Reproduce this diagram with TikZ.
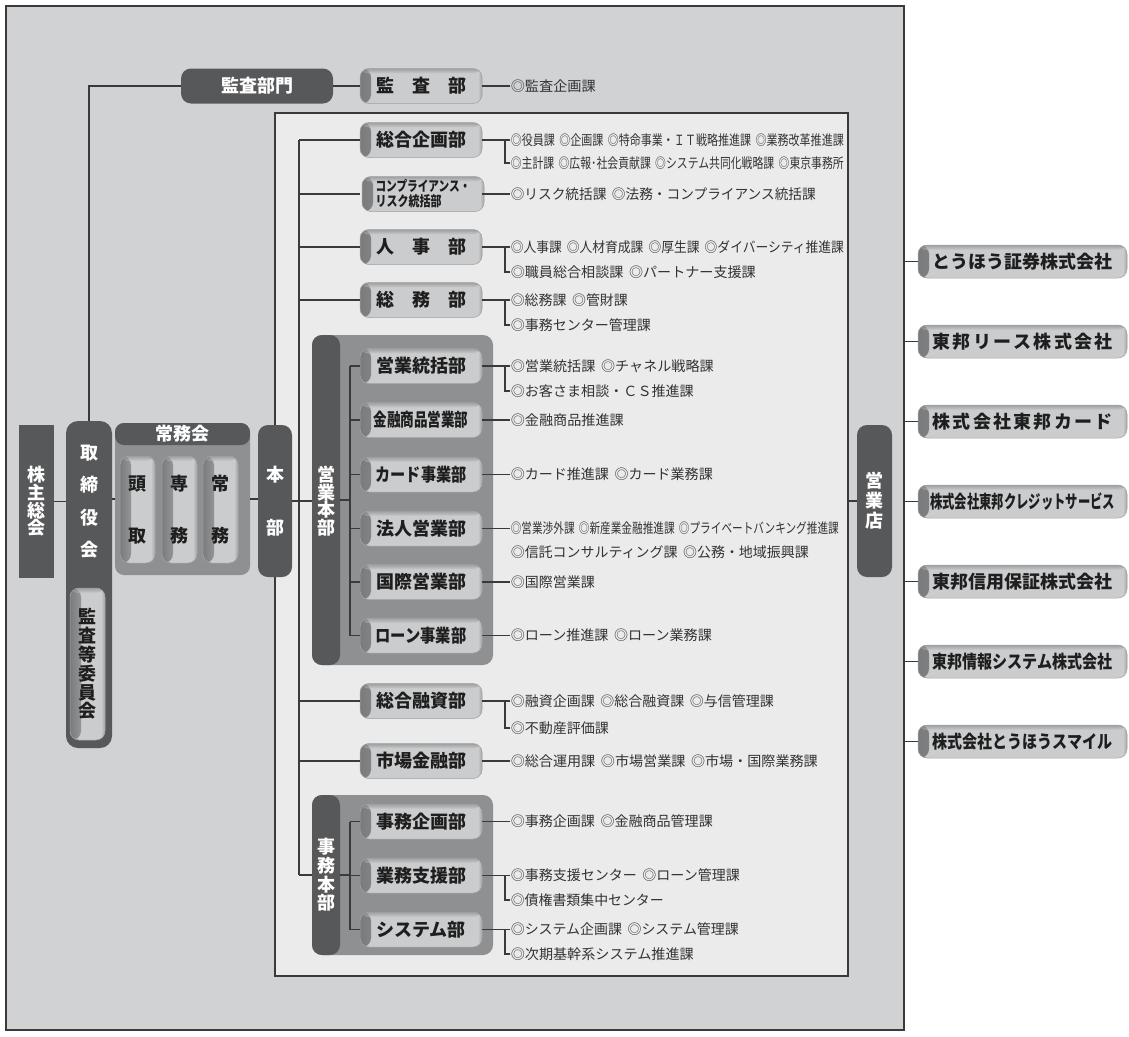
\documentclass[tikz,border=0pt]{standalone}
\usepackage{fontspec}
\setmainfont{Noto Sans CJK JP}
\usetikzlibrary{calc}
\definecolor{outerfill}{HTML}{D1D2D4}
\definecolor{innerfill}{HTML}{EBEBEC}
\definecolor{darkc}{HTML}{57585A}
\definecolor{midc}{HTML}{8F9092}
\definecolor{lboxfill}{HTML}{CBCCCE}
\definecolor{lshade}{HTML}{7A7B7D}
\definecolor{rshade}{HTML}{A3A4A6}
\definecolor{lboxedge}{HTML}{A0A1A3}
\definecolor{linec}{HTML}{3A3A3A}
\definecolor{txtc}{HTML}{1E1E1E}
\definecolor{smallc}{HTML}{333333}
\newcommand\fitw[2]{\resizebox{#1pt}{\height}{#2}}
\newcommand\fsz[2]{\fontsize{#1}{#2}\selectfont}
\newcommand\gp{\hspace{0.4em}}
\tikzset{
  conn/.style={draw=linec, line width=1.2pt},
  dbox/.style={fill=darkc, text=white, inner sep=0pt, rounded corners=10pt, align=center, font={\fsz{18}{18}\bfseries}},
  wtxt/.style={text=white, inner sep=0pt, align=center, font={\fsz{18}{18}\bfseries}},
  lbox/.style={draw=lboxedge, line width=0.5pt, fill=lboxfill, rounded corners=9pt, minimum width=122pt, minimum height=35pt, inner sep=0pt, align=center, text=txtc, font={\fsz{18}{18}\bfseries},
    path picture={
      \shade[left color=lshade, right color=lboxfill] (path picture bounding box.south west) rectangle ([xshift=11pt]path picture bounding box.north west);
      \shade[left color=lboxfill, right color=rshade] ([xshift=-4pt]path picture bounding box.south east) rectangle (path picture bounding box.north east);
      \shade[top color=lshade, bottom color=lboxfill, opacity=0.55] (path picture bounding box.north west) rectangle ([yshift=-5pt]path picture bounding box.north east);
    }},
  cbox/.style={lbox, minimum width=209pt, minimum height=33pt},
  grp/.style={fill=midc, rounded corners=10pt, inner sep=0pt},
  small/.style={anchor=west, inner sep=0.6pt, text=smallc, font={\fsz{14}{14}}},
}
\begin{document}
\begin{tikzpicture}[x=1pt,y=-1pt]
\useasboundingbox (0,0) rectangle (1129,1036);
% panels
\node[draw=linec, line width=1.4pt, fill=outerfill, minimum width=898pt, minimum height=1024pt, inner sep=0pt] (outer) at (455,518) {};
\node[draw=linec, line width=1.2pt, fill=innerfill, minimum width=573pt, minimum height=863pt, inner sep=0pt] (inner) at (561.5,544.5) {};

% left column
\node[dbox, rounded corners=0pt, minimum width=35pt, minimum height=153pt, font={\fsz{18}{17.7}\bfseries}] (kabu) at (36.5,501.5) {株\\主\\総\\会};
\node[dbox, rounded corners=12pt, minimum width=46pt, minimum height=327pt] (tori) at (89,584.5) {};
\node[wtxt, font={\fsz{18}{32.3}\bfseries}] (torit) at (89,501.5) {取\\締\\役\\会};
\node[lbox, minimum width=35pt, minimum height=152pt, font={\fsz{18}{18.8}\bfseries}] (kansaiin) at (87.5,664) {監\\査\\等\\委\\員\\会};

% jomukai
\node[grp, rounded corners=9pt, minimum width=135pt, minimum height=152pt,
  path picture={\fill[darkc] (path picture bounding box.north west) rectangle ([yshift=-22pt]path picture bounding box.north east);}] (jomu) at (182.5,499) {};
\node[wtxt] (jomut) at (182.5,434) {常務会};
\node[lbox, minimum width=35pt, minimum height=107pt, font={\fsz{18}{52}\bfseries}] (toudori) at (137.5,509.5) {頭\\取};
\node[lbox, minimum width=35pt, minimum height=107pt, font={\fsz{18}{52}\bfseries}] (senmu) at (179.5,509.5) {専\\務};
\node[lbox, minimum width=35pt, minimum height=107pt, font={\fsz{18}{52}\bfseries}] (joumu) at (220.5,509.5) {常\\務};

% honbu
\node[dbox, minimum width=34pt, minimum height=152pt, font={\fsz{18}{53}\bfseries}] (honbu) at (275,501) {本\\部};

% kansa
\node[dbox, minimum width=152pt, minimum height=35pt] (kbm) at (257,86) {監査部門};
\node[lbox] (kansa) at (421,86) {監　査　部};
\node[small] (kansa1) at (510,86) {\fitw{85}{◎監査企画課}};

% departments
\node[lbox] (sogo) at (421,140) {総合企画部};
\node[lbox, font={\fsz{14}{15}\bfseries}, align=left] (comp) at (423,194) {\fitw{95}{コンプライアンス・}\\\fitw{66}{リスク統括部}};
\node[lbox] (jinji) at (421,247) {人　事　部};
\node[lbox] (somu) at (421,300) {総　務　部};

% eigyo honbu group
\node[grp, minimum width=181pt, minimum height=330pt,
  path picture={\fill[darkc] (path picture bounding box.south west) rectangle ([xshift=28pt]path picture bounding box.north west);}] (eh) at (402.5,500) {};
\node[wtxt, font={\fsz{18}{17.5}\bfseries}] (eht) at (326,501) {営\\業\\本\\部};
\node[lbox] (eb1) at (421,366) {営業統括部};
\node[lbox] (eb2) at (421,420) {\fitw{95}{金融商品営業部}};
\node[lbox] (eb3) at (421,474.5) {\fitw{91}{カード事業部}};
\node[lbox] (eb4) at (421,528.5) {法人営業部};
\node[lbox] (eb5) at (421,582) {国際営業部};
\node[lbox] (eb6) at (421,635.5) {\fitw{91}{ローン事業部}};

\node[lbox] (yushi) at (421,701) {総合融資部};
\node[lbox] (shijo) at (421,761) {市場金融部};

% jimu honbu group
\node[grp, minimum width=181pt, minimum height=160pt,
  path picture={\fill[darkc] (path picture bounding box.south west) rectangle ([xshift=28pt]path picture bounding box.north west);}] (jh) at (402.5,875) {};
\node[wtxt, font={\fsz{18}{18.7}\bfseries}] (jht) at (326,875) {事\\務\\本\\部};
\node[lbox] (jb1) at (421,821.5) {事務企画部};
\node[lbox] (jb2) at (421,875.5) {業務支援部};
\node[lbox] (jb3) at (421,929.5) {システム部};

% eigyoten
\node[dbox, minimum width=35pt, minimum height=152pt, font={\fsz{18}{20}\bfseries}] (eigyoten) at (874.5,501) {営\\業\\店};

% companies
\node[cbox] (c1) at (1022.5,261.5) {とうほう証券株式会社};
\node[cbox] (c2) at (1022.5,341.5) {\makebox[180pt][s]{東\hfil 邦\hfil リ\hfil ー\hfil ス\hfil 株\hfil 式\hfil 会\hfil 社}};
\node[cbox] (c3) at (1022.5,421.5) {\makebox[180pt][s]{株\hfil 式\hfil 会\hfil 社\hfil 東\hfil 邦\hfil カ\hfil ー\hfil ド}};
\node[cbox] (c4) at (1022.5,501.5) {\fitw{185}{株式会社東邦クレジットサービス}};
\node[cbox] (c5) at (1022.5,581.5) {東邦信用保証株式会社};
\node[cbox] (c6) at (1022.5,661.5) {\fitw{180}{東邦情報システム株式会社}};
\node[cbox] (c7) at (1022.5,741.5) {\fitw{180}{株式会社とうほうスマイル}};

% section texts
\node[small] (sogo1) at (510,140) {\fitw{333}{◎役員課\gp◎企画課\gp◎特命事業・ＩＴ戦略推進課\gp◎業務改革推進課}};
\node[small] (sogo2) at (510,163) {\fitw{333}{◎主計課\gp◎広報･社会貢献課\gp◎システム共同化戦略課\gp◎東京事務所}};
\node[small] (comp1) at (510,194) {\fitw{305}{◎リスク統括課\gp◎法務・コンプライアンス統括課}};
\node[small] (jinji1) at (510,247) {\fitw{333}{◎人事課\gp◎人材育成課\gp◎厚生課\gp◎ダイバーシティ推進課}};
\node[small] (jinji2) at (510,272) {\fitw{245}{◎職員総合相談課\gp◎パートナー支援課}};
\node[small] (somu1) at (510,300) {\fitw{117}{◎総務課\gp◎管財課}};
\node[small] (somu2) at (510,325) {\fitw{140}{◎事務センター管理課}};
\node[small] (eb1a) at (510,366) {\fitw{203}{◎営業統括課\gp◎チャネル戦略課}};
\node[small] (eb1b) at (510,391) {\fitw{183}{◎お客さま相談・ＣＳ推進課}};
\node[small] (eb2a) at (510,420) {\fitw{113}{◎金融商品推進課}};
\node[small] (eb3a) at (510,474.5) {\fitw{202}{◎カード推進課\gp◎カード業務課}};
\node[small] (eb4a) at (510,528.5) {\fitw{328}{◎営業渉外課\gp◎新産業金融推進課\gp◎プライベートバンキング推進課}};
\node[small] (eb4b) at (510,552) {\fitw{298}{◎信託コンサルティング課\gp◎公務・地域振興課}};
\node[small] (eb5a) at (510,582) {\fitw{84}{◎国際営業課}};
\node[small] (eb6a) at (510,635.5) {\fitw{201}{◎ローン推進課\gp◎ローン業務課}};
\node[small] (yushi1) at (510,701) {\fitw{263}{◎融資企画課\gp◎総合融資課\gp◎与信管理課}};
\node[small] (yushi2) at (510,728) {\fitw{98}{◎不動産評価課}};
\node[small] (shijo1) at (510,761) {\fitw{307}{◎総合運用課\gp◎市場営業課\gp◎市場・国際業務課}};
\node[small] (jb1a) at (510,821.5) {\fitw{202}{◎事務企画課\gp◎金融商品管理課}};
\node[small] (jb2a) at (510,875.5) {\fitw{229}{◎事務支援センター\gp◎ローン管理課}};
\node[small] (jb2b) at (510,900) {\fitw{153}{◎債権書類集中センター}};
\node[small] (jb3a) at (510,929.5) {\fitw{228}{◎システム企画課\gp◎システム管理課}};
\node[small] (jb3b) at (510,954) {\fitw{183}{◎次期基幹系システム推進課}};

% connectors: top level
\draw[conn] (kabu.east) -- (kabu.east -| tori.west);
\draw[conn] (tori.east |- jomu.west) -- (jomu.west);
\draw[conn] (jomu.east) -- (honbu.west |- jomu.east);
\draw[conn] (tori.north) |- (kbm.west);
\draw[conn] (kbm.east) -- (kansa.west);
\draw[conn] (kansa.east) -- (kansa1.west);
\draw[conn] (honbu.east) -- (eh.west |- honbu.east);
\draw[conn] (eigyoten.west -| inner.east) -- (eigyoten.west);
\foreach \c in {c1,c2,c3,c4,c5,c6,c7} \draw[conn] (\c.west -| outer.east) -- (\c.west);

% main trunk
\coordinate (tr1) at (299,140);
\coordinate (tr2) at (299,875);
\draw[conn] (tr1) -- (tr2);
\foreach \n in {sogo,jinji,somu,yushi,shijo} \draw[conn] (\n.west -| tr1) -- (\n.west);
\draw[conn] (comp.west -| tr1) -- (comp.west -| sogo.west);
\draw[conn] (jh.west -| tr1) -- (jh.west);

% eigyo honbu trunk
\coordinate (et1) at (350,366);
\coordinate (et2) at (350,635.5);
\draw[conn] (et1) -- (et2);
\draw[conn] ([xshift=28pt]eh.west) -- (eh.west -| et1);
\foreach \n in {eb1,eb2,eb3,eb4,eb5,eb6} \draw[conn] (\n.west -| et1) -- (\n.west);

% jimu honbu trunk
\coordinate (jt1) at (350,821.5);
\coordinate (jt2) at (350,929.5);
\draw[conn] (jt1) -- (jt2);
\draw[conn] ([xshift=28pt]jh.west) -- (jh.west -| jt1);
\foreach \n in {jb1,jb2,jb3} \draw[conn] (\n.west -| jt1) -- (\n.west);

% department to section lines
\foreach \b/\t in {sogo/sogo1,jinji/jinji1,somu/somu1,eb1/eb1a,eb2/eb2a,eb3/eb3a,eb4/eb4a,eb5/eb5a,eb6/eb6a,yushi/yushi1,shijo/shijo1,jb1/jb1a,jb2/jb2a,jb3/jb3a}
  \draw[conn] (\b.east) -- (\t.west);
\draw[conn] (comp.east -| sogo.east) -- (comp1.west);
\foreach \a/\bb in {sogo1/sogo2,jinji1/jinji2,somu1/somu2,eb1a/eb1b,yushi1/yushi2,jb2a/jb2b,jb3a/jb3b}
  \draw[conn] ([xshift=-5pt]\a.west) |- (\bb.west);
\end{tikzpicture}
\end{document}
